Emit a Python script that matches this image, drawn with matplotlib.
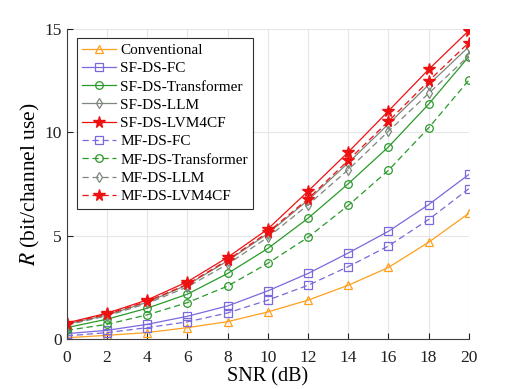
import numpy as np
import matplotlib
matplotlib.use('Agg')
import matplotlib.pyplot as plt

plt.rcParams['font.family'] = ['Liberation Serif', 'DejaVu Serif']
plt.rcParams['mathtext.fontset'] = 'stix'

snr = [0, 2, 4, 6, 8, 10, 12, 14, 16, 18, 20]

conventional = [0.06, 0.18, 0.31, 0.55, 0.84, 1.31, 1.88, 2.60, 3.46, 4.68, 6.08]
sf_fc = [0.26, 0.42, 0.71, 1.10, 1.60, 2.33, 3.17, 4.16, 5.21, 6.50, 7.96]
sf_tr = [0.55, 0.96, 1.49, 2.17, 3.17, 4.38, 5.84, 7.51, 9.29, 11.36, 13.66]
sf_llm = [0.72, 1.16, 1.78, 2.62, 3.78, 5.10, 6.72, 8.52, 10.40, 12.30, 14.14]
sf_lvm = [0.78, 1.25, 1.89, 2.77, 3.95, 5.32, 7.15, 9.04, 11.03, 13.04, 14.92]
mf_fc = [0.15, 0.31, 0.55, 0.83, 1.26, 1.88, 2.60, 3.50, 4.50, 5.78, 7.27]
mf_tr = [0.42, 0.71, 1.17, 1.76, 2.56, 3.66, 4.92, 6.46, 8.16, 10.21, 12.52]
mf_llm = [0.68, 1.12, 1.72, 2.52, 3.62, 4.92, 6.49, 8.19, 10.05, 11.88, 13.70]
mf_lvm = [0.74, 1.20, 1.82, 2.65, 3.82, 5.16, 6.78, 8.64, 10.53, 12.48, 14.34]

c_orange = '#FF9F1C'
c_blue = '#7B68DD'
c_green = '#2A9A2A'
c_gray = '#7D877D'
c_red = '#EE1111'

fig = plt.figure(figsize=(5.18, 3.89), dpi=100)
ax = fig.add_axes([0.129, 0.1285, 0.776, 0.797])

series = [
    ('Conventional', conventional, c_orange, '^', '-'),
    ('SF-DS-FC', sf_fc, c_blue, 's', '-'),
    ('SF-DS-Transformer', sf_tr, c_green, 'o', '-'),
    ('SF-DS-LLM', sf_llm, c_gray, 'd', '-'),
    ('SF-DS-LVM4CF', sf_lvm, c_red, '*', '-'),
    ('MF-DS-FC', mf_fc, c_blue, 's', '--'),
    ('MF-DS-Transformer', mf_tr, c_green, 'o', '--'),
    ('MF-DS-LLM', mf_llm, c_gray, 'd', '--'),
    ('MF-DS-LVM4CF', mf_lvm, c_red, '*', '--'),
]

for name, vals, col, mk, ls in series:
    kw = dict(color=col, linestyle=ls, marker=mk, linewidth=0.9, label=name)
    if ls == '--':
        kw['dashes'] = (5, 3)
    if mk == '*':
        ax.plot(snr, vals, markersize=8.5, markerfacecolor=col,
                markeredgecolor=col, **kw)
    else:
        ax.plot(snr, vals, markersize=5.5, markerfacecolor='none',
                markeredgecolor=col, markeredgewidth=0.9, **kw)

ax.set_xlim(0, 20)
ax.set_ylim(0, 15)
ax.set_xticks(np.arange(0, 21, 2))
ax.set_yticks([0, 5, 10, 15])
ax.grid(True, color='#E6E6E6', linewidth=0.8)
ax.set_axisbelow(True)
ax.spines['top'].set_visible(False)
ax.spines['right'].set_visible(False)
for s in ['left', 'bottom']:
    ax.spines[s].set_color('#404040')
    ax.spines[s].set_linewidth(0.8)
ax.tick_params(direction='in', length=4, colors='#202020', labelsize=12.5)
ax.tick_params(axis='x', pad=8)
ax.set_xlabel('SNR (dB)', fontsize=14.5, labelpad=1)
ax.set_ylabel('$R$ (bit/channel use)', fontsize=15.5, labelpad=2)

leg = ax.legend(loc='upper left', bbox_to_anchor=(0.025, 0.971), borderaxespad=0,
                fontsize=11, handlelength=2.2, labelspacing=0.3, borderpad=0.35,
                handletextpad=0.3, fancybox=False, framealpha=1)
leg.get_frame().set_edgecolor('#303030')
leg.get_frame().set_linewidth(0.8)

fig.savefig('out.png', dpi=100)
